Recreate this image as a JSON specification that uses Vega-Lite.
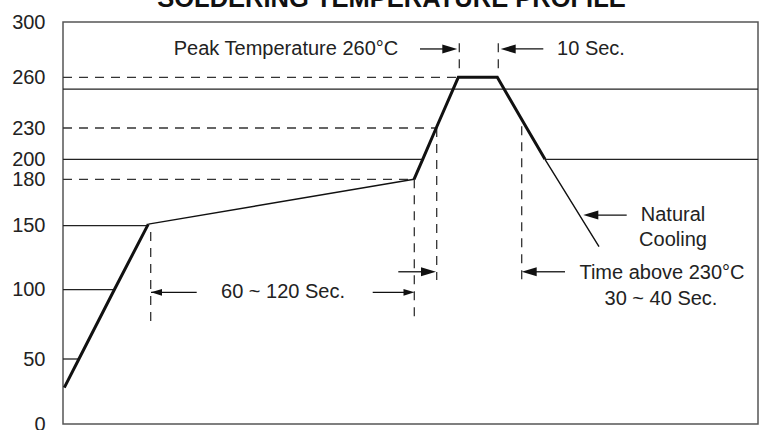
{
  "$schema": "https://vega.github.io/schema/vega-lite/v6.json",
  "autosize": "none",
  "width": 695,
  "height": 402,
  "padding": {"left": 63, "top": 22, "right": 5, "bottom": 6},
  "background": "white",
  "title": {"text": "SOLDERING TEMPERATURE PROFILE", "font": "Liberation Sans", "fontSize": 25.5, "fontWeight": "bold", "color": "#111", "anchor": "middle", "frame": "group", "offset": -0.5, "dx": -19},
  "config": {
    "view": {"stroke": "#555", "strokeWidth": 1.5},
    "axisY": {"domain": false, "ticks": false, "tickSize": 0, "grid": false, "labelFont": "Liberation Sans", "labelFontSize": 20, "labelColor": "#222", "labelPadding": 18, "labelOverlap": false}
  },
  "datasets": {
    "curve": [
      {"t": 1.3, "temp": 28, "phase": "ramp"},
      {"t": 15.9, "temp": 50, "phase": "ramp"},
      {"t": 51.3, "temp": 100, "phase": "ramp"},
      {"t": 85.3, "temp": 151, "phase": "ramp"},
      {"t": 85.3, "temp": 151, "phase": "preheat"},
      {"t": 351, "temp": 180, "phase": "preheat"},
      {"t": 351, "temp": 180, "phase": "reflow"},
      {"t": 359.7, "temp": 200, "phase": "reflow"},
      {"t": 373.2, "temp": 230, "phase": "reflow"},
      {"t": 395.3, "temp": 260, "phase": "reflow"},
      {"t": 434.3, "temp": 260, "phase": "reflow"},
      {"t": 463.7, "temp": 230, "phase": "reflow"},
      {"t": 482, "temp": 200, "phase": "reflow"},
      {"t": 482, "temp": 200, "phase": "cooling"},
      {"t": 494.4, "temp": 180, "phase": "cooling"},
      {"t": 523, "temp": 150, "phase": "cooling"},
      {"t": 536, "temp": 133.6, "phase": "cooling"}
    ],
    "levels": [
      {"t": 0, "t2": 15.9, "temp": 50},
      {"t": 0, "t2": 51.3, "temp": 100},
      {"t": 0, "t2": 85.3, "temp": 150},
      {"t": 0, "t2": 359.7, "temp": 200},
      {"t": 482, "t2": 695, "temp": 200},
      {"t": 0, "t2": 695, "temp": 253}
    ],
    "guides": [
      {"t": 0, "t2": 395.3, "temp": 260, "temp2": 260},
      {"t": 0, "t2": 373.5, "temp": 230, "temp2": 230},
      {"t": 0, "t2": 351, "temp": 180, "temp2": 180},
      {"t": 87.7, "t2": 87.7, "temp": 145, "temp2": 76},
      {"t": 351.3, "t2": 351.3, "temp": 180, "temp2": 77},
      {"t": 373.7, "t2": 373.7, "temp": 230, "temp2": 107.6},
      {"t": 458.7, "t2": 458.7, "temp": 231, "temp2": 107.6},
      {"t": 396.3, "t2": 396.3, "temp": 284.6, "temp2": 264},
      {"t": 435.3, "t2": 435.3, "temp": 284.6, "temp2": 264}
    ],
    "shafts": [
      {"t": 357, "t2": 385, "temp": 280.5},
      {"t": 445, "t2": 480.3, "temp": 280.5},
      {"t": 88, "t2": 133.7, "temp": 98.1},
      {"t": 309.7, "t2": 345, "temp": 98.1},
      {"t": 335.3, "t2": 362, "temp": 114},
      {"t": 470, "t2": 502, "temp": 114},
      {"t": 530, "t2": 563.7, "temp": 156.9}
    ],
    "heads": [
      {"t": 394.3, "temp": 280.5, "dir": "right", "kind": "large"},
      {"t": 437.7, "temp": 280.5, "dir": "left", "kind": "large"},
      {"t": 88, "temp": 98.1, "dir": "left", "kind": "small"},
      {"t": 351.5, "temp": 98.1, "dir": "right", "kind": "small"},
      {"t": 373, "temp": 114, "dir": "right", "kind": "large"},
      {"t": 458.7, "temp": 114, "dir": "left", "kind": "large"},
      {"t": 520.3, "temp": 156.9, "dir": "left", "kind": "large"}
    ],
    "notes": [
      {"t": 223, "temp": 280.5, "text": "Peak Temperature 260°C"},
      {"t": 528, "temp": 280.5, "text": "10 Sec."},
      {"t": 220, "temp": 98.1, "text": "60 ~ 120 Sec."},
      {"t": 610, "temp": 157, "text": "Natural"},
      {"t": 610, "temp": 138.8, "text": "Cooling"},
      {"t": 599, "temp": 113, "text": "Time above 230°C"},
      {"t": 598, "temp": 93.3, "text": "30 ~ 40 Sec."}
    ]
  },
  "layer": [
    {
      "data": {"name": "levels"},
      "mark": {"type": "rule", "color": "#222", "strokeWidth": 1.3},
      "encoding": {
        "x": {"field": "t", "type": "quantitative", "scale": {"domain": [0, 695], "nice": false, "zero": false}, "axis": null},
        "x2": {"field": "t2"},
        "y": {"field": "temp", "type": "quantitative", "title": null, "scale": {"domain": [0, 50, 100, 150, 180, 200, 230, 260, 300], "range": [402, 337, 267.7, 203.7, 157.3, 137.3, 106, 55.3, 0], "nice": false, "zero": false}, "axis": {"values": [0, 50, 100, 150, 180, 200, 230, 260, 300]}}
      }
    },
    {
      "data": {"name": "guides"},
      "mark": {"type": "rule", "color": "#333", "strokeWidth": 1.3, "strokeDash": [9, 7]},
      "encoding": {
        "x": {"field": "t", "type": "quantitative", "scale": {"domain": [0, 695], "nice": false, "zero": false}, "axis": null},
        "x2": {"field": "t2"},
        "y": {"field": "temp", "type": "quantitative", "title": null, "scale": {"domain": [0, 50, 100, 150, 180, 200, 230, 260, 300], "range": [402, 337, 267.7, 203.7, 157.3, 137.3, 106, 55.3, 0], "nice": false, "zero": false}, "axis": {"values": [0, 50, 100, 150, 180, 200, 230, 260, 300]}},
        "y2": {"field": "temp2"}
      }
    },
    {
      "data": {"name": "curve"},
      "transform": [{"filter": {"field": "phase", "oneOf": ["ramp", "reflow"]}}],
      "mark": {"type": "line", "color": "#111", "strokeWidth": 3, "strokeJoin": "miter"},
      "encoding": {
        "x": {"field": "t", "type": "quantitative", "scale": {"domain": [0, 695], "nice": false, "zero": false}, "axis": null},
        "y": {"field": "temp", "type": "quantitative", "title": null, "scale": {"domain": [0, 50, 100, 150, 180, 200, 230, 260, 300], "range": [402, 337, 267.7, 203.7, 157.3, 137.3, 106, 55.3, 0], "nice": false, "zero": false}, "axis": {"values": [0, 50, 100, 150, 180, 200, 230, 260, 300]}},
        "detail": {"field": "phase"},
        "order": {"field": "t"}
      }
    },
    {
      "data": {"name": "curve"},
      "transform": [{"filter": {"field": "phase", "oneOf": ["preheat", "cooling"]}}],
      "mark": {"type": "line", "color": "#111", "strokeWidth": 1.4},
      "encoding": {
        "x": {"field": "t", "type": "quantitative", "scale": {"domain": [0, 695], "nice": false, "zero": false}, "axis": null},
        "y": {"field": "temp", "type": "quantitative", "title": null, "scale": {"domain": [0, 50, 100, 150, 180, 200, 230, 260, 300], "range": [402, 337, 267.7, 203.7, 157.3, 137.3, 106, 55.3, 0], "nice": false, "zero": false}, "axis": {"values": [0, 50, 100, 150, 180, 200, 230, 260, 300]}},
        "detail": {"field": "phase"},
        "order": {"field": "t"}
      }
    },
    {
      "data": {"name": "shafts"},
      "mark": {"type": "rule", "color": "#111", "strokeWidth": 1.3},
      "encoding": {
        "x": {"field": "t", "type": "quantitative", "scale": {"domain": [0, 695], "nice": false, "zero": false}, "axis": null},
        "x2": {"field": "t2"},
        "y": {"field": "temp", "type": "quantitative", "title": null, "scale": {"domain": [0, 50, 100, 150, 180, 200, 230, 260, 300], "range": [402, 337, 267.7, 203.7, 157.3, 137.3, 106, 55.3, 0], "nice": false, "zero": false}, "axis": {"values": [0, 50, 100, 150, 180, 200, 230, 260, 300]}}
      }
    },
    {
      "data": {"name": "heads"},
      "mark": {"type": "point", "filled": true, "color": "#111", "opacity": 1, "strokeWidth": 0},
      "encoding": {
        "x": {"field": "t", "type": "quantitative", "scale": {"domain": [0, 695], "nice": false, "zero": false}, "axis": null},
        "y": {"field": "temp", "type": "quantitative", "title": null, "scale": {"domain": [0, 50, 100, 150, 180, 200, 230, 260, 300], "range": [402, 337, 267.7, 203.7, 157.3, 137.3, 106, 55.3, 0], "nice": false, "zero": false}, "axis": {"values": [0, 50, 100, 150, 180, 200, 230, 260, 300]}},
        "shape": {"field": "dir", "type": "nominal", "scale": {"domain": ["right", "left"], "range": ["M-2,-0.6L0,0L-2,0.6Z", "M2,-0.6L0,0L2,0.6Z"]}, "legend": null},
        "size": {"field": "kind", "type": "nominal", "scale": {"domain": ["large", "small"], "range": [225, 121]}, "legend": null}
      }
    },
    {
      "data": {"name": "notes"},
      "mark": {"type": "text", "font": "Liberation Sans", "fontSize": 20, "color": "#222", "align": "center", "baseline": "middle"},
      "encoding": {
        "x": {"field": "t", "type": "quantitative", "scale": {"domain": [0, 695], "nice": false, "zero": false}, "axis": null},
        "y": {"field": "temp", "type": "quantitative", "title": null, "scale": {"domain": [0, 50, 100, 150, 180, 200, 230, 260, 300], "range": [402, 337, 267.7, 203.7, 157.3, 137.3, 106, 55.3, 0], "nice": false, "zero": false}, "axis": {"values": [0, 50, 100, 150, 180, 200, 230, 260, 300]}},
        "text": {"field": "text"}
      }
    }
  ]
}
